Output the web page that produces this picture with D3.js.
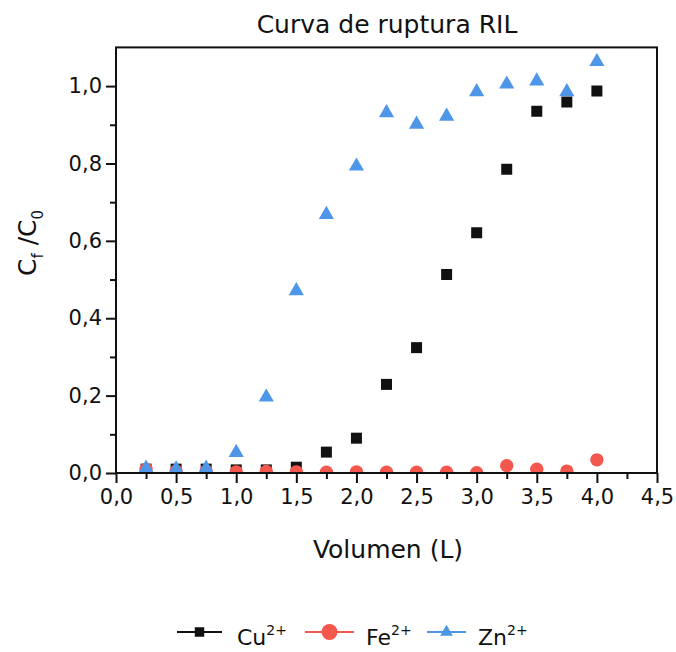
<!DOCTYPE html>
<html>
<head>
<meta charset="utf-8">
<script src="https://cdn.jsdelivr.net/npm/d3@7"></script>
<style>
  body { margin: 0; background: #fff; }
  svg { display: block; }
  text { font-family: "DejaVu Sans", sans-serif; fill: #111; }
</style>
</head>
<body>
<svg id="chart" width="676" height="652"></svg>
<script>
// Breakthrough curve data: outlet/inlet concentration ratio vs. treated volume
const volumes = [0.25, 0.5, 0.75, 1.0, 1.25, 1.5, 1.75, 2.0, 2.25, 2.5, 2.75, 3.0, 3.25, 3.5, 3.75, 4.0];
const cuValues = [0.010, 0.010, 0.010, 0.008, 0.008, 0.015, 0.054, 0.090, 0.229, 0.324, 0.513, 0.621, 0.785, 0.935, 0.959, 0.987];
const feValues = [0.010, 0.005, 0.005, 0.003, 0.004, 0.003, 0.002, 0.003, 0.002, 0.002, 0.002, 0.001, 0.019, 0.010, 0.005, 0.034];
const znValues = [0.012, 0.010, 0.012, 0.053, 0.196, 0.471, 0.668, 0.793, 0.931, 0.901, 0.922, 0.985, 1.005, 1.013, 0.985, 1.063];

const seriesIons = ["Cu", "Fe", "Zn"];
const seriesCharge = "2+";
const seriesColors = ["#111111", "#f4574d", "#4e96e8"];
const seriesSymbols = [d3.symbolSquare, d3.symbolCircle, d3.symbolTriangle];
const seriesSizes = [121, 140, 100];

const xMajorTicks = [0, 0.5, 1.0, 1.5, 2.0, 2.5, 3.0, 3.5, 4.0, 4.5];
const xMinorTicks = [0.25, 0.75, 1.25, 1.75, 2.25, 2.75, 3.25, 3.75, 4.25];
const yMajorTicks = [0, 0.2, 0.4, 0.6, 0.8, 1.0];
const yMinorTicks = [0.1, 0.3, 0.5, 0.7, 0.9];

const titleText = "Curva de ruptura RIL";
const xLabelText = "Volumen (L)";

const svg = d3.select("#chart");
const fmt = d3.formatLocale({ decimal: ",", thousands: ".", grouping: [3], currency: ["", ""] }).format(".1f");

const x = d3.scaleLinear().domain([0, 4.5]).range([116, 657]);
const y = d3.scaleLinear().domain([0, 1.1]).range([473, 47.4]);

const [x0, x1] = x.range();
const [yb, yt] = y.range();

// plot clip so markers sitting on zero are cut at the axis
svg.append("defs").append("clipPath").attr("id", "plotClip")
  .append("rect").attr("x", x0).attr("y", yt).attr("width", x1 - x0).attr("height", yb - yt);

// markers
const series = [cuValues, feValues, znValues];
const marks = svg.append("g").attr("clip-path", "url(#plotClip)");
series.forEach((vals, i) => {
  const sym = d3.symbol().type(seriesSymbols[i]).size(seriesSizes[i]);
  marks.append("g").selectAll("path")
    .data(volumes.map((v, k) => [v, vals[k]]))
    .join("path")
    .attr("d", sym)
    .attr("transform", d => `translate(${x(d[0])},${y(d[1])})`)
    .attr("fill", seriesColors[i]);
});

// frame (top and right sides without ticks)
svg.append("rect")
  .attr("x", x0).attr("y", yt).attr("width", x1 - x0).attr("height", yb - yt)
  .attr("fill", "none").attr("stroke", "#111").attr("stroke-width", 2);

// bottom axis
const xAxis = d3.axisBottom(x).tickValues(xMajorTicks).tickFormat(fmt).tickSize(10).tickPadding(6);
const gx = svg.append("g").attr("transform", `translate(0,${yb})`).call(xAxis);
gx.select(".domain").remove();
gx.selectAll(".tick line").attr("stroke", "#111").attr("stroke-width", 2);
gx.selectAll(".tick text").attr("font-size", 21).attr("font-family", "DejaVu Sans").attr("fill", "#111").attr("dy", "0.71em");
const gxm = svg.append("g").attr("transform", `translate(0,${yb})`)
  .call(d3.axisBottom(x).tickValues(xMinorTicks).tickFormat("").tickSize(6));
gxm.select(".domain").remove();
gxm.selectAll(".tick line").attr("stroke", "#111").attr("stroke-width", 2);

// left axis
const yAxis = d3.axisLeft(y).tickValues(yMajorTicks).tickFormat(fmt).tickSize(10).tickPadding(4);
const gy = svg.append("g").attr("transform", `translate(${x0},0)`).call(yAxis);
gy.select(".domain").remove();
gy.selectAll(".tick line").attr("stroke", "#111").attr("stroke-width", 2);
gy.selectAll(".tick text").attr("font-size", 21).attr("font-family", "DejaVu Sans").attr("fill", "#111");
const gym = svg.append("g").attr("transform", `translate(${x0},0)`)
  .call(d3.axisLeft(y).tickValues(yMinorTicks).tickFormat("").tickSize(6));
gym.select(".domain").remove();
gym.selectAll(".tick line").attr("stroke", "#111").attr("stroke-width", 2);

// title and axis labels
svg.append("text").attr("x", 387).attr("y", 33).attr("text-anchor", "middle")
  .attr("font-size", 25).text(titleText);

svg.append("text").attr("x", 388).attr("y", 558).attr("text-anchor", "middle")
  .attr("font-size", 25).text(xLabelText);

const yl = svg.append("text").attr("transform", "translate(36,243) rotate(-90)")
  .attr("text-anchor", "middle").attr("font-size", 25);
yl.append("tspan").text("C");
yl.append("tspan").attr("font-size", 15).attr("dy", 7).text("f");
yl.append("tspan").attr("dy", -7).text(" /C");
yl.append("tspan").attr("font-size", 15).attr("dy", 7).text("0");

// legend
const legendItems = [
  { lineX: [177, 222], textX: 237 },
  { lineX: [305, 354], textX: 366 },
  { lineX: [427, 466], textX: 478 }
];
const legendSizes = [90, 200, 70];
const legY = 632;
const lg = svg.append("g");
legendItems.forEach((it, i) => {
  lg.append("line").attr("x1", it.lineX[0]).attr("x2", it.lineX[1])
    .attr("y1", legY).attr("y2", legY)
    .attr("stroke", seriesColors[i]).attr("stroke-width", 2);
  lg.append("path")
    .attr("d", d3.symbol().type(seriesSymbols[i]).size(legendSizes[i]))
    .attr("transform", `translate(${(it.lineX[0] + it.lineX[1]) / 2},${legY})`)
    .attr("fill", seriesColors[i]);
  const t = lg.append("text").attr("x", it.textX).attr("y", 645).attr("font-size", 22);
  t.append("tspan").text(seriesIons[i]);
  t.append("tspan").attr("font-size", 14).attr("dy", -10).text(seriesCharge);
});
</script>
</body>
</html>
